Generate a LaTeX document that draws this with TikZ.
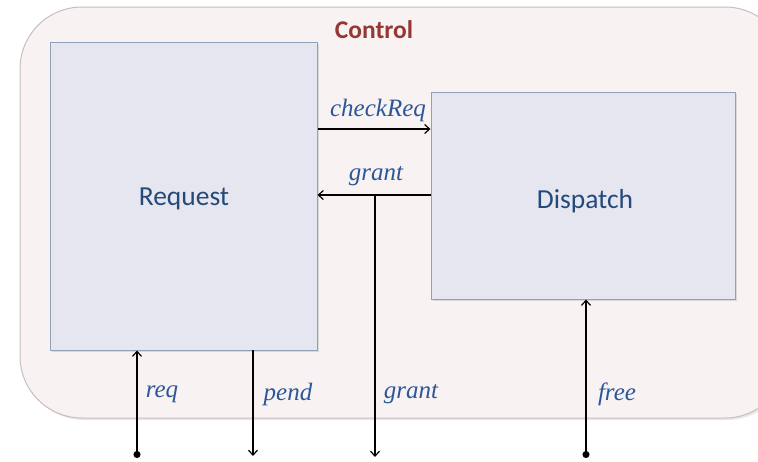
\documentclass[tikz,border=0pt]{standalone}
\usepackage{fontspec}
\setmainfont{Carlito}
\newfontfamily\lblfont{Liberation Serif}
\usetikzlibrary{arrows.meta}
\definecolor{outerfill}{HTML}{F9F2F3}
\definecolor{outerdraw}{HTML}{C9BDBE}
\definecolor{boxfill}{HTML}{E6E6F0}
\definecolor{boxdraw}{HTML}{8FA2BA}
\definecolor{titlecol}{HTML}{953735}
\definecolor{namecol}{HTML}{244A7A}
\definecolor{lblcol}{HTML}{2B5797}
\tikzset{
  blockbox/.style={draw=boxdraw, fill=boxfill, line width=1pt, inner sep=0pt},
  blockname/.style={text=namecol, font=\fontsize{27.5}{32}\selectfont},
  sig/.style={line width=1.2pt, -{Straight Barb[length=5pt,width=9pt]}},
  sigdot/.style={line width=1.2pt, {Circle[length=7pt]}-{Straight Barb[length=5pt,width=9pt]}},
  lbl/.style={text=lblcol, font=\lblfont\itshape\fontsize{25}{29}\selectfont, inner sep=0pt}
}
\begin{document}
\begin{tikzpicture}[x=1pt,y=-1pt]
\useasboundingbox (0,0) rectangle (758,461);
\begin{scope}
\clip (0,0) rectangle (758,461);
\fill[gray!18, rounded corners=62pt] (22,9) rectangle (789,420);
\draw[draw=outerdraw, fill=outerfill, line width=1pt, rounded corners=62pt] (20,7) rectangle (787,418);
\end{scope}
\node[text=titlecol, font=\bfseries\fontsize{25.5}{30}\selectfont] (title) at (374,30) {Control};
\fill[gray!30] (52,44) rectangle (319,352);
\fill[gray!30] (433,94) rectangle (737,301);
\node[blockbox, minimum width=267pt, minimum height=308pt] (req) at (183.5,196) {};
\node[blockbox, minimum width=304pt, minimum height=207pt] (disp) at (583,195.5) {};
\node[blockname] at (184,199) {Request};
\node[blockname] at (585,201) {Dispatch};
% internal
\coordinate (ckA) at (req.east |- 0,129);
\coordinate (ckB) at (disp.west |- 0,129);
\draw[sig] (ckA) -- (ckB);
\node[lbl] (ckl) at (378,110) {checkReq};
\coordinate (grA) at (disp.west |- 0,195);
\coordinate (grB) at (req.east |- 0,195);
\draw[sig] (grA) -- (grB);
\node[lbl] (grl) at (376,176) {grant};
\coordinate (grT) at (375,195);
\coordinate (grE) at (375,457);
\draw[sig] (grT) -- (grE);
\node[lbl] (grl2) at (411,394) {grant};
% req
\coordinate (rqS) at (137,458);
\coordinate (rqE) at (137,350.5);
\draw[sigdot] (rqS) -- (rqE);
\node[lbl] (rql) at (162,394) {req};
% pend
\coordinate (pdS) at (253,350);
\coordinate (pdE) at (253,456);
\draw[sig] (pdS) -- (pdE);
\node[lbl] (pdl) at (288,394) {pend};
% free
\coordinate (frS) at (586,458);
\coordinate (frE) at (586,299.5);
\draw[sigdot] (frS) -- (frE);
\node[lbl] (frl) at (617,394) {free};
\end{tikzpicture}
\end{document}
